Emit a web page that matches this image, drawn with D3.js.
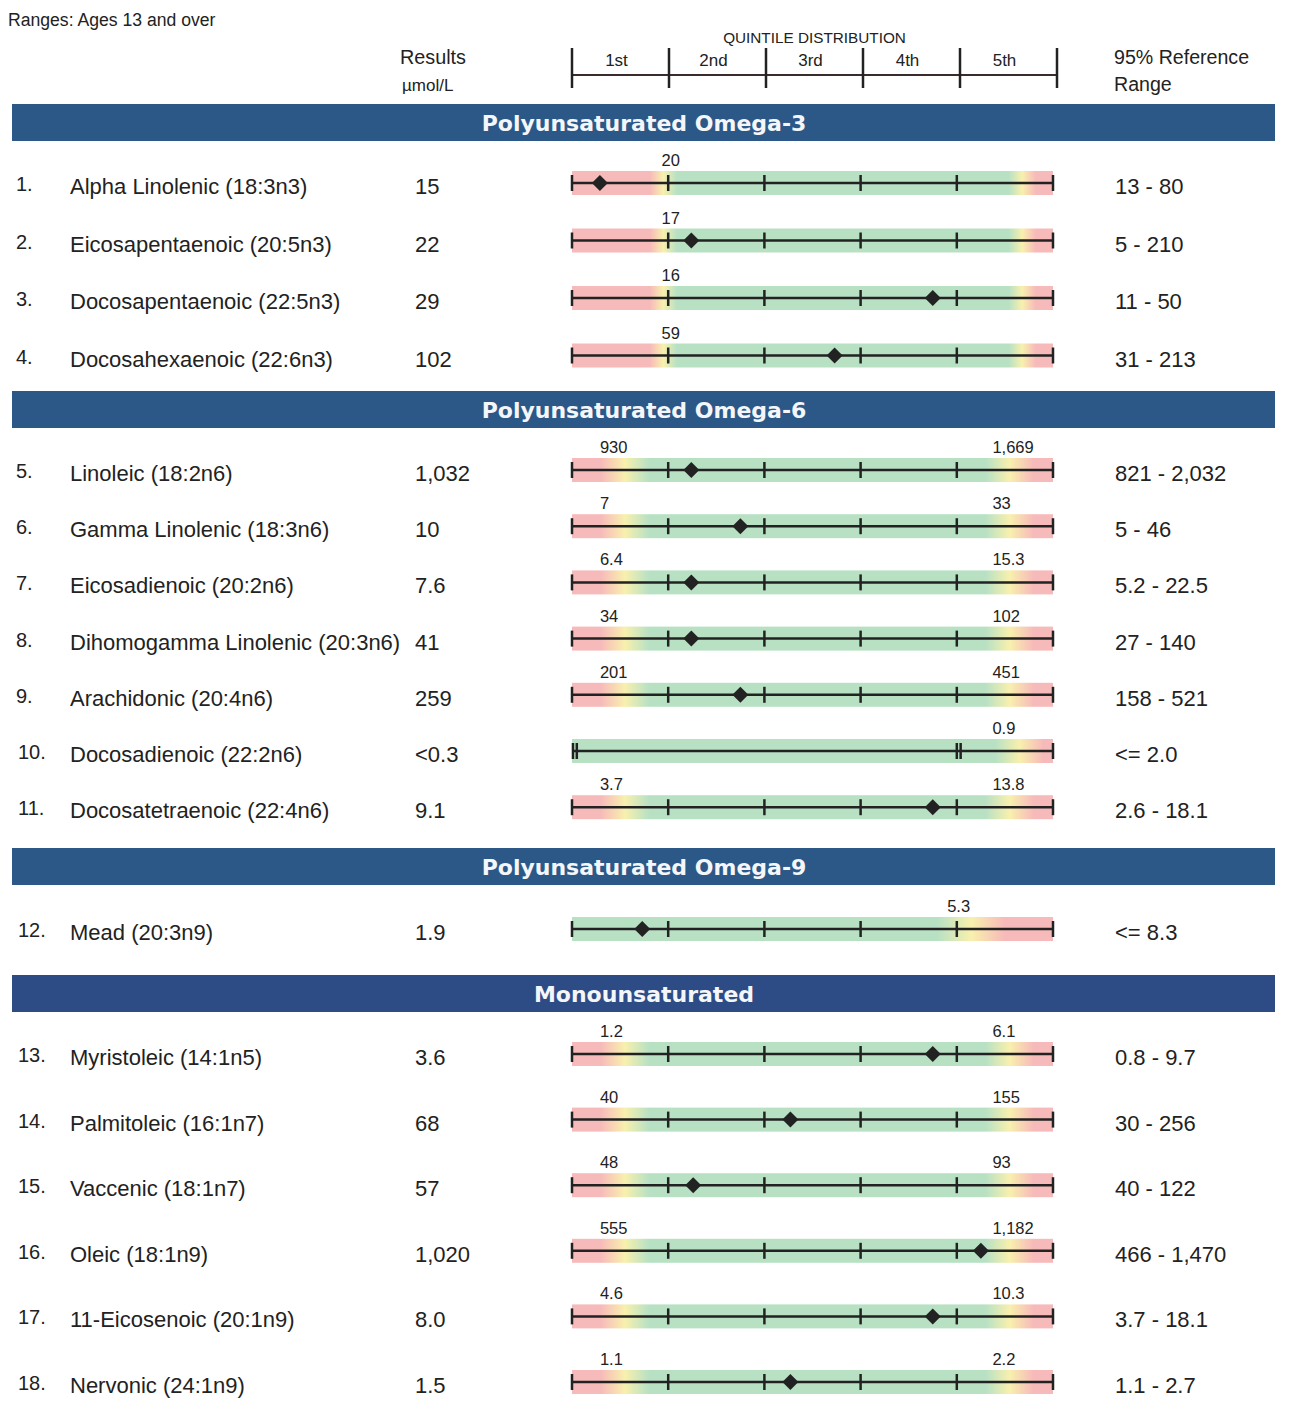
<!DOCTYPE html>
<html>
  <head>
    <script src="https://d3js.org/d3.v7.min.js"></script>
    <style>
      body {
        margin: 0;
        background: #ffffff;
        font-family: "Liberation Sans", Arial, sans-serif;
      }
    </style>
    <title>Fatty Acids</title>
  </head>

  <body>
    <svg id="chart" width="1302" height="1412"></svg>

    <script>
      // ---- data ----
      var sectionTitles = [
        "Polyunsaturated Omega-3",
        "Polyunsaturated Omega-6",
        "Polyunsaturated Omega-9",
        "Monounsaturated",
      ];
      var quintileLabels = ["1st", "2nd", "3rd", "4th", "5th"];

      var rowSection = [0, 0, 0, 0, 1, 1, 1, 1, 1, 1, 1, 2, 3, 3, 3, 3, 3, 3];
      var rowNames = [
        "Alpha Linolenic (18:3n3)",
        "Eicosapentaenoic (20:5n3)",
        "Docosapentaenoic (22:5n3)",
        "Docosahexaenoic (22:6n3)",
        "Linoleic (18:2n6)",
        "Gamma Linolenic (18:3n6)",
        "Eicosadienoic (20:2n6)",
        "Dihomogamma Linolenic (20:3n6)",
        "Arachidonic (20:4n6)",
        "Docosadienoic (22:2n6)",
        "Docosatetraenoic (22:4n6)",
        "Mead (20:3n9)",
        "Myristoleic (14:1n5)",
        "Palmitoleic (16:1n7)",
        "Vaccenic (18:1n7)",
        "Oleic (18:1n9)",
        "11-Eicosenoic (20:1n9)",
        "Nervonic (24:1n9)",
      ];
      var results = ["15", "22", "29", "102", "1,032", "10", "7.6", "41", "259",
        "<0.3", "9.1", "1.9", "3.6", "68", "57", "1,020", "8.0", "1.5"];
      var ranges = ["13 - 80", "5 - 210", "11 - 50", "31 - 213", "821 - 2,032",
        "5 - 46", "5.2 - 22.5", "27 - 140", "158 - 521", "<= 2.0", "2.6 - 18.1",
        "<= 8.3", "0.8 - 9.7", "30 - 256", "40 - 122", "466 - 1,470",
        "3.7 - 18.1", "1.1 - 2.7"];
      var lowLabels = ["20", "17", "16", "59", "930", "7", "6.4", "34", "201",
        null, "3.7", null, "1.2", "40", "48", "555", "4.6", "1.1"];
      var highLabels = [null, null, null, null, "1,669", "33", "15.3", "102",
        "451", "0.9", "13.8", "5.3", "6.1", "155", "93", "1,182", "10.3", "2.2"];
      // quintile units (0..5) where the result sits, and where the green zone runs
      var markers = [0.29, 1.24, 3.75, 2.73, 1.24, 1.75, 1.24, 1.24, 1.75, null,
        3.75, 0.73, 3.75, 2.27, 1.26, 4.25, 3.75, 2.27];
      var greenFrom = [0.95, 0.95, 0.95, 0.95, 0.55, 0.55, 0.55, 0.55, 0.55,
        null, 0.55, null, 0.55, 0.55, 0.55, 0.55, 0.55, 0.55];
      var greenTo = [4.68, 4.68, 4.68, 4.68, 4.55, 4.55, 4.55, 4.55, 4.55,
        4.65, 4.55, 4.15, 4.55, 4.55, 4.55, 4.55, 4.55, 4.55];
      var lowLabelAt = [0.93, 0.93, 0.93, 0.93, 0.29, 0.29, 0.29, 0.29, 0.29,
        null, 0.29, null, 0.29, 0.29, 0.29, 0.29, 0.29, 0.29];
      var highLabelAt = [null, null, null, null, 4.37, 4.37, 4.37, 4.37, 4.37,
        4.37, 4.37, 3.9, 4.37, 4.37, 4.37, 4.37, 4.37, 4.37];
      var breakAt = [null, null, null, null, null, null, null, null, null,
        4.0, null, null, null, null, null, null, null, null];

      // ---- layout ----
      var sectionLayout = [
        { top: 104, first: 183, step: 57.5, fade: 0.14 },
        { top: 391, first: 470, step: 56.2, fade: 0.25 },
        { top: 848, first: 929, step: 0, fade: 0.35 },
        { top: 975, first: 1054, step: 65.6, fade: 0.25 },
      ];
      var bannerColors = ["#2c5888", "#2c5888", "#2c5888", "#2d4c86"];
      var ink = "#222";
      var red = "#f7baba", yellow = "#f8f0ad", green = "#b8e1c4";

      var svg = d3.select("#chart");
      var defs = svg.append("defs");

      var x = d3.scaleLinear().domain([0, 5]).range([572, 1053]);
      var xHead = d3.scaleLinear().domain([0, 5]).range([572, 1057]);

      // y of each row from its section layout
      var counters = [0, 0, 0, 0];
      var rowY = rowSection.map(function (s) {
        var i = counters[s]++;
        return sectionLayout[s].first + i * sectionLayout[s].step;
      });

      // ---- page header ----
      svg.append("text").attr("x", 8).attr("y", 26)
        .style("font-size", "17.6px").style("fill", ink)
        .text("Ranges: Ages 13 and over");

      svg.append("text").attr("x", 400).attr("y", 64)
        .style("font-size", "19.8px").style("fill", ink).text("Results");
      svg.append("text").attr("x", 402).attr("y", 91)
        .style("font-size", "17px").style("fill", ink).text("µmol/L");
      svg.append("text").attr("x", 1114).attr("y", 64)
        .style("font-size", "19.6px").style("fill", ink).text("95% Reference");
      svg.append("text").attr("x", 1114).attr("y", 91)
        .style("font-size", "19.6px").style("fill", ink).text("Range");

      svg.append("text").attr("x", xHead(2.5)).attr("y", 43)
        .attr("text-anchor", "middle")
        .style("font-size", "15.3px").style("fill", ink)
        .text("QUINTILE DISTRIBUTION");

      var head = svg.append("g");
      head.append("line")
        .attr("x1", xHead(0)).attr("x2", xHead(5))
        .attr("y1", 75).attr("y2", 75)
        .style("stroke", "#3a2c2c").style("stroke-width", 2);
      head.selectAll(".qtick").data(d3.range(6)).enter().append("line")
        .attr("x1", function (d) { return xHead(d); })
        .attr("x2", function (d) { return xHead(d); })
        .attr("y1", 48).attr("y2", 88)
        .style("stroke", ink).style("stroke-width", 2.5);
      head.selectAll(".qlab").data(quintileLabels).enter().append("text")
        .attr("x", function (d, i) { return xHead(i + 0.5) - 4; })
        .attr("y", 66)
        .attr("text-anchor", "middle")
        .style("font-size", "17px").style("fill", ink)
        .text(function (d) { return d; });

      // ---- section banners ----
      var banners = svg.selectAll(".banner").data(sectionTitles).enter()
        .append("g");
      banners.append("rect")
        .attr("x", 12).attr("width", 1263)
        .attr("y", function (d, i) { return sectionLayout[i].top; })
        .attr("height", 37)
        .style("fill", function (d, i) { return bannerColors[i]; });
      banners.append("text")
        .attr("x", 644)
        .attr("y", function (d, i) { return sectionLayout[i].top + 27; })
        .attr("text-anchor", "middle")
        .style("font-family", "'DejaVu Sans', sans-serif")
        .style("font-weight", "bold")
        .style("font-size", "22px")
        .style("fill", "#f4f6fa")
        .text(function (d) { return d; });

      // ---- gradients per row ----
      rowNames.forEach(function (n, i) {
        var fade = sectionLayout[rowSection[i]].fade;
        var stops = [];
        if (greenFrom[i] != null) {
          stops.push([0, red], [greenFrom[i] - fade, red],
            [greenFrom[i], yellow], [greenFrom[i] + fade, green]);
        } else {
          stops.push([0, green]);
        }
        stops.push([greenTo[i] - fade, green], [greenTo[i], yellow],
          [greenTo[i] + fade, red], [5, red]);
        var g = defs.append("linearGradient")
          .attr("id", "zone" + i)
          .attr("gradientUnits", "userSpaceOnUse")
          .attr("x1", x(0)).attr("x2", x(5))
          .attr("y1", 0).attr("y2", 0);
        g.selectAll("stop").data(stops).enter().append("stop")
          .attr("offset", function (s) { return (s[0] / 5) * 100 + "%"; })
          .attr("stop-color", function (s) { return s[1]; });
      });

      // ---- rows ----
      var rows = svg.selectAll(".row").data(rowNames).enter().append("g")
        .attr("transform", function (d, i) { return "translate(0," + rowY[i] + ")"; });

      rows.append("text").attr("x", function (d, i) { return i < 9 ? 16 : 18; })
        .attr("y", 8)
        .style("font-size", "20px").style("fill", ink)
        .text(function (d, i) { return i + 1 + "."; });
      rows.append("text").attr("x", 70).attr("y", 11)
        .style("font-size", "22px").style("fill", ink)
        .text(function (d) { return d; });
      rows.append("text").attr("x", 415).attr("y", 11)
        .style("font-size", "22px").style("fill", ink)
        .text(function (d, i) { return results[i]; });
      rows.append("text").attr("x", 1115).attr("y", 11)
        .style("font-size", "22px").style("fill", ink)
        .text(function (d, i) { return ranges[i]; });

      rows.append("rect")
        .attr("x", x(0)).attr("width", x(5) - x(0))
        .attr("y", -12).attr("height", 24)
        .style("fill", function (d, i) { return "url(#zone" + i + ")"; });

      rows.append("line")
        .attr("x1", x(0)).attr("x2", x(5))
        .attr("y1", 0).attr("y2", 0)
        .style("stroke", ink).style("stroke-width", 2.5);

      rows.each(function (d, i) {
        var g = d3.select(this);
        var ticks = breakAt[i] == null
          ? d3.range(6)
          : [0.01, 0.05, breakAt[i], breakAt[i] + 0.04, 5];
        g.selectAll(".tick").data(ticks).enter().append("line")
          .attr("x1", function (t) { return x(t); })
          .attr("x2", function (t) { return x(t); })
          .attr("y1", -8).attr("y2", 8)
          .style("stroke", ink).style("stroke-width", 2.5);

        if (markers[i] != null) {
          g.append("path")
            .attr("d", "M0,-8L8,0L0,8L-8,0Z")
            .attr("transform", "translate(" + x(markers[i]) + ",0)")
            .style("fill", ink);
        }
        if (lowLabels[i] != null) {
          g.append("text").attr("x", x(lowLabelAt[i])).attr("y", -17)
            .style("font-size", "16.5px").style("fill", ink)
            .text(lowLabels[i]);
        }
        if (highLabels[i] != null) {
          g.append("text").attr("x", x(highLabelAt[i])).attr("y", -17)
            .style("font-size", "16.5px").style("fill", ink)
            .text(highLabels[i]);
        }
      });
    </script>
  </body>
</html>
